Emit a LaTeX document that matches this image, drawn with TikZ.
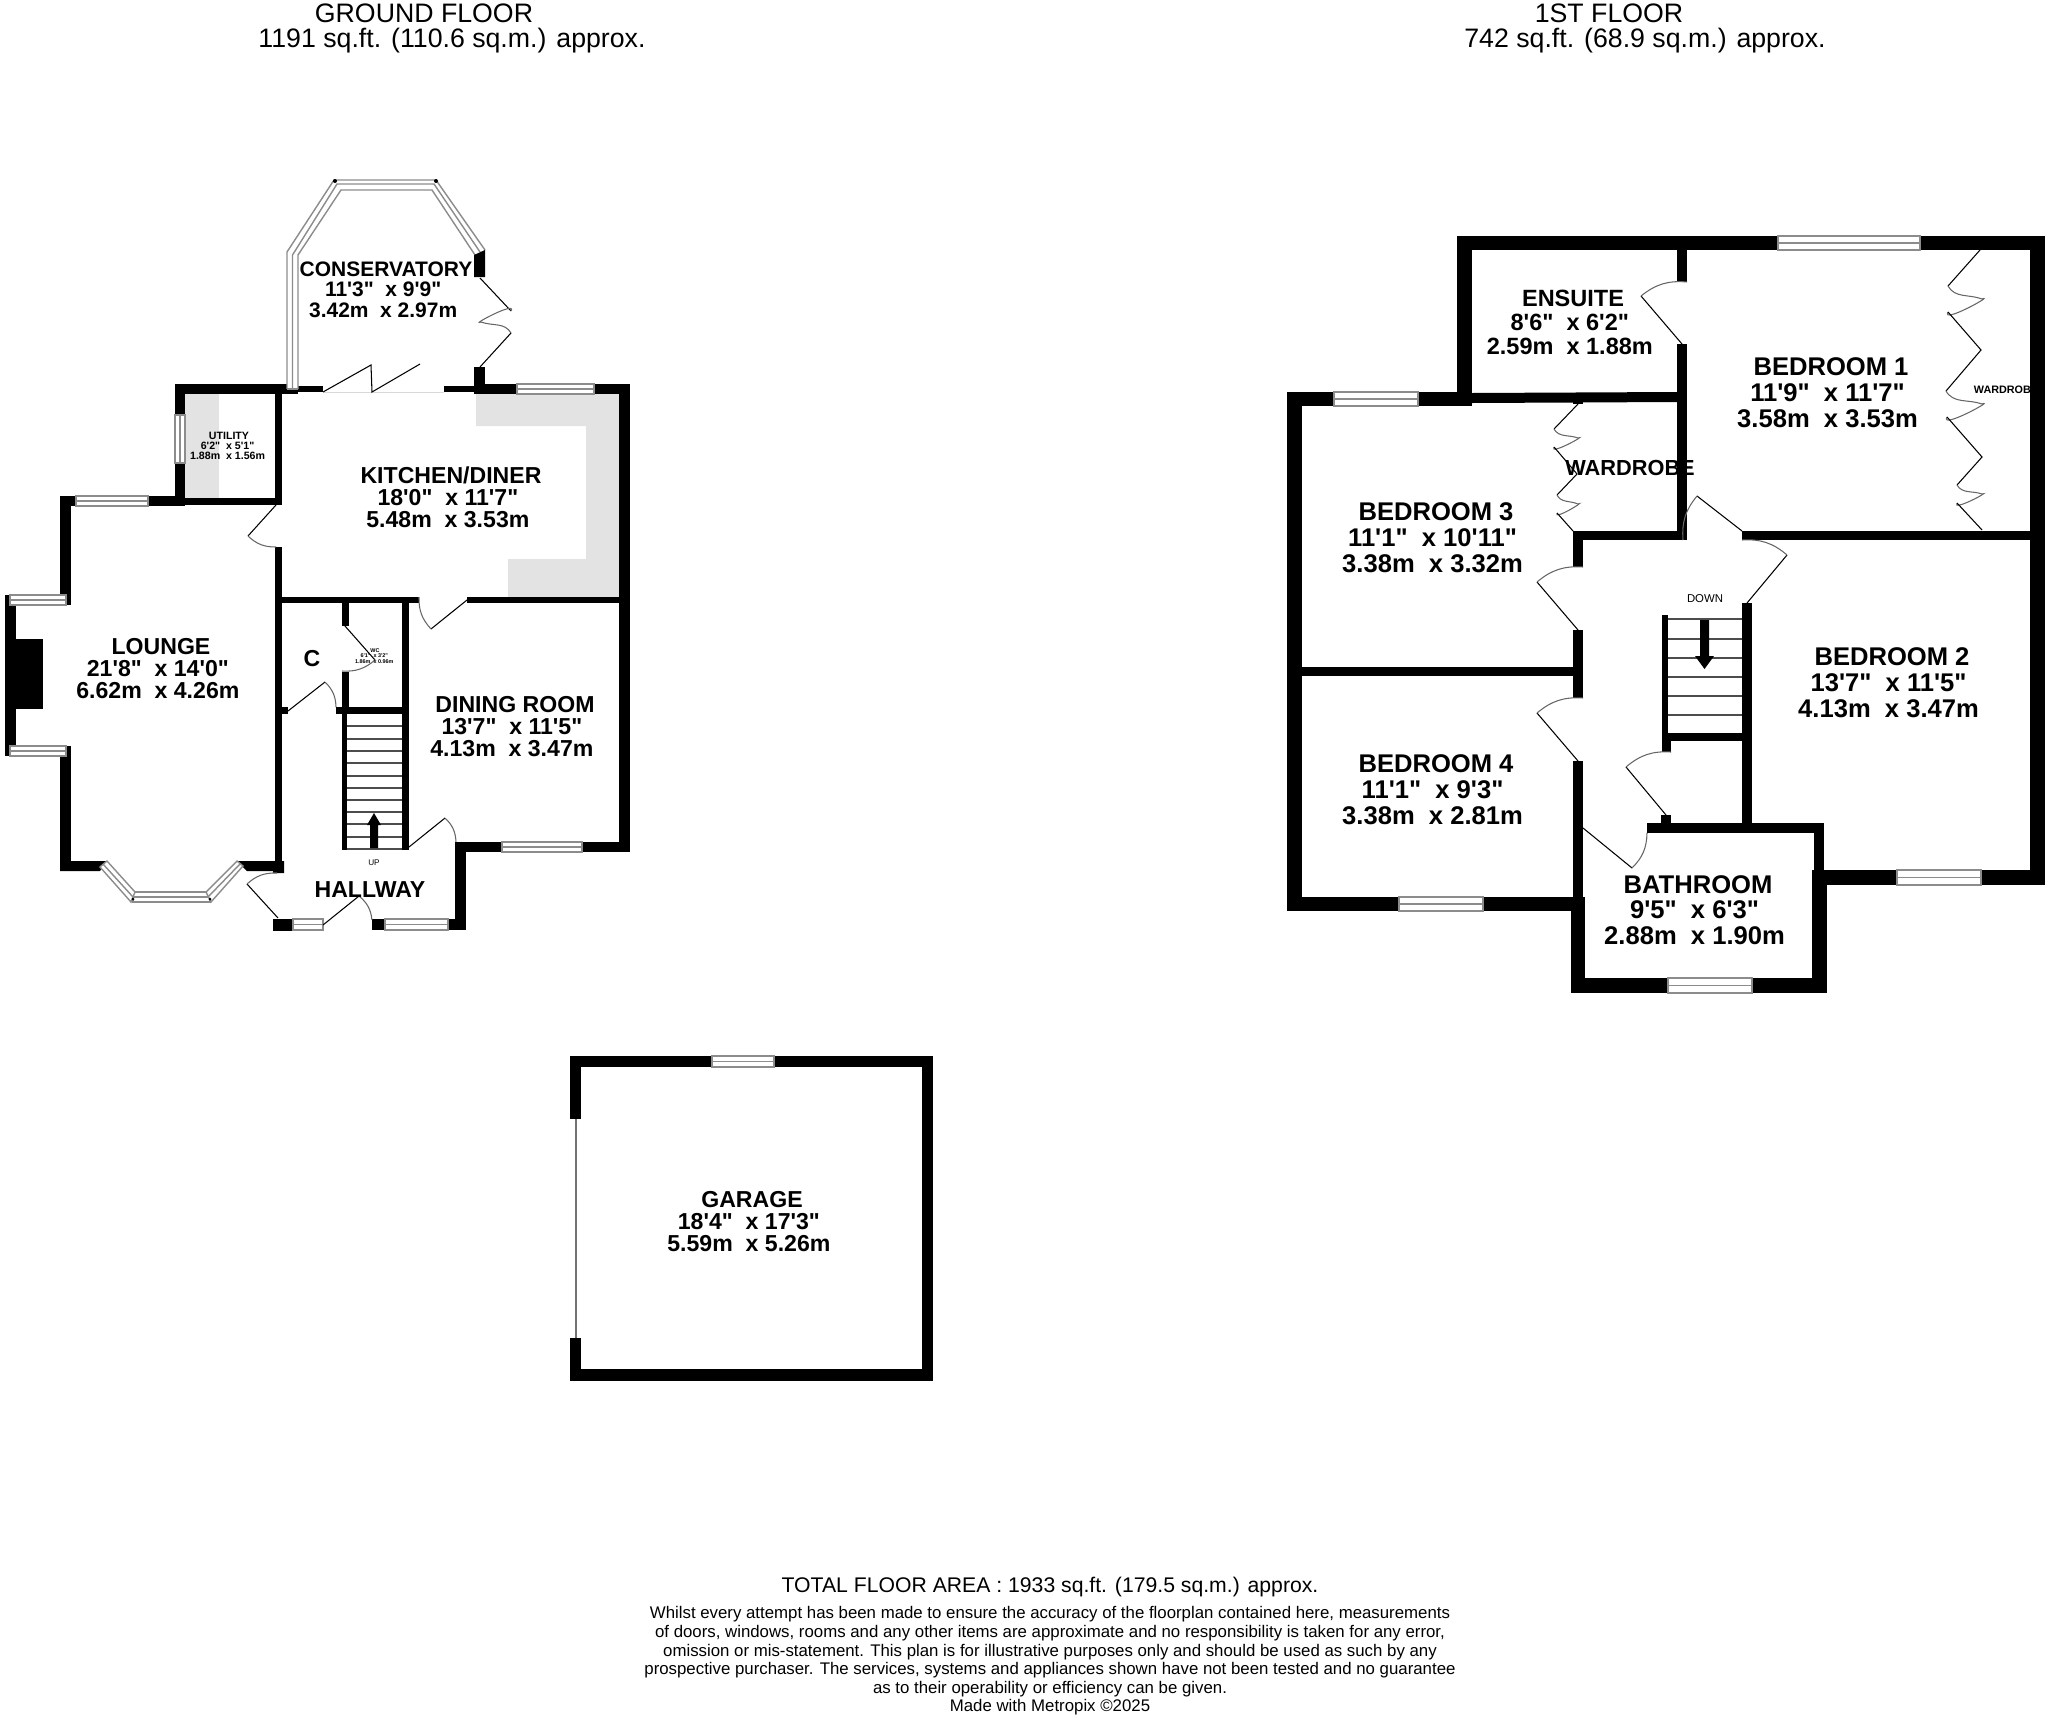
\documentclass[tikz,border=0pt]{standalone}
\usepackage{fontspec}
\setmainfont{Liberation Sans}[Ligatures=TeXOff]
\usepackage{tikz}
\tikzstyle{wall}=[fill=black]
\tikzstyle{unit}=[fill=black!11]
\tikzstyle{win}=[draw=black!45, line width=.4pt, fill=white]
\tikzstyle{leaf}=[line width=.3pt]
\tikzstyle{swing}=[line width=.3pt, draw=black!60, bend right=22]
\tikzstyle{tread}=[line width=.3pt, draw=black!70]
\tikzstyle{room}=[font=\bfseries\fontsize{6.57pt}{6.26pt}\selectfont, align=center, inner sep=0pt, yshift=-.45pt]
\tikzstyle{roomA}=[font=\bfseries\fontsize{7.28pt}{7.31pt}\selectfont, align=center, inner sep=0pt, yshift=-.25pt]
\tikzstyle{roomB}=[font=\bfseries\fontsize{6.69pt}{6.83pt}\selectfont, align=center, inner sep=0pt, yshift=-.25pt]
\tikzstyle{roomC}=[font=\bfseries\fontsize{5.97pt}{5.83pt}\selectfont, align=center, inner sep=0pt, yshift=-.2pt]
\tikzstyle{roomD}=[font=\bfseries\fontsize{3.02pt}{2.85pt}\selectfont, align=center, inner sep=0pt]
\tikzstyle{roomE}=[font=\bfseries\fontsize{1.55pt}{1.5pt}\selectfont, align=center, inner sep=0pt]
\tikzstyle{title}=[font=\fontsize{7.6pt}{7.6pt}\selectfont, inner sep=0pt]
\newcommand{\roomtxt}[3]{#1\\#2\kern.27em\\#3\kern.27em}
\newcommand{\winh}[4]{\draw[win] (#1,#2) rectangle (#3,#4); \draw[win] (#1,{(#2+#4)/2}) -- (#3,{(#2+#4)/2});}
\newcommand{\winv}[4]{\draw[win] (#1,#2) rectangle (#3,#4); \draw[win] ({(#1+#3)/2},#2) -- ({(#1+#3)/2},#4);}

\begin{document}
\begin{tikzpicture}[x=.1mm, y=-.1mm]
\useasboundingbox (0,0) rectangle (2048,1716);
% fitted units
\fill[unit] (185,394) rectangle (219,498);
\fill[unit] (476,394) -- (619,394) -- (619,597) -- (508,597) -- (508,559) -- (586,559) -- (586,426) -- (476,426) -- cycle;
\node[font=\bfseries\fontsize{3.07pt}{3pt}\selectfont, inner sep=0pt] (wardrobeB) at (2006,390) {WARDROBE};
% ground floor walls
\fill[wall] (175,384) rectangle (287,394);
\fill[wall] (287,384) rectangle (298,394);
\fill[wall] (298,386) rectangle (323,392);
\fill[wall] (444,386) rectangle (474,392);
\fill[wall] (474,367) rectangle (485,394);
\fill[wall] (485,384) rectangle (517,394);
\fill[wall] (594,384) rectangle (630,394);
\fill[wall] (175,394) rectangle (185,415);
\fill[wall] (175,463) rectangle (185,505);
\fill[wall] (275,394) rectangle (282,505);
\fill[wall] (148,498) rectangle (282,505);
\fill[wall] (148,496) rectangle (185,506);
\fill[wall] (60,496) rectangle (76,506);
\fill[wall] (60,496) rectangle (71,605);
\fill[wall] (5,595) rectangle (16,756);
\fill[wall] (16,639) rectangle (43,709);
\fill[wall] (60,746) rectangle (71,871);
\fill[wall] (60,861) -- (107,861) -- (100,871) -- (60,871) -- cycle;
\fill[wall] (237,861) -- (284,861) -- (284,873) -- (273,873) -- (273,871) -- (247,871) -- cycle;
\fill[wall] (275,547) rectangle (282,861);
\fill[wall] (282,597) rectangle (419,603);
\fill[wall] (467,597) rectangle (630,603);
\fill[wall] (619,384) rectangle (630,852);
\fill[wall] (456,842) rectangle (502,852);
\fill[wall] (582,842) rectangle (630,852);
\fill[wall] (455,842) rectangle (466,930);
\fill[wall] (448,919) rectangle (466,930);
\fill[wall] (372,919) rectangle (385,930);
\fill[wall] (273,919) rectangle (293,931);
\fill[wall] (342,603) rectangle (349,626);
\fill[wall] (342,672) rectangle (349,710);
\fill[wall] (342,710) rectangle (347,850);
\fill[wall] (336,707) rectangle (409,714);
\fill[wall] (282,707) rectangle (288,714);
\fill[wall] (402,603) rectangle (409,850);
% garage walls
\fill[wall] (570,1056) rectangle (712,1067);
\fill[wall] (774,1056) rectangle (933,1067);
\fill[wall] (570,1056) rectangle (581,1119);
\fill[wall] (570,1338) rectangle (581,1381);
\fill[wall] (922,1056) rectangle (933,1381);
\fill[wall] (570,1369) rectangle (933,1381);
\draw[line width=.4pt, draw=black!55] (576,1119) -- (576,1338);
% first floor walls
\fill[wall] (1457,236) rectangle (1778,250);
\fill[wall] (1920,236) rectangle (2045,250);
\fill[wall] (1457,236) rectangle (1472,406);
\fill[wall] (1287,392) rectangle (1334,406);
\fill[wall] (1418,392) rectangle (1472,406);
\fill[wall] (1287,392) rectangle (1302,911);
\fill[wall] (1472,393) -- (1677,392) -- (1677,402) -- (1472,403) -- cycle;
\fill[wall] (1573,400) rectangle (1583,404);
\fill[wall] (1677,236) rectangle (1687,282);
\fill[wall] (1677,344) rectangle (1687,540);
\fill[wall] (1573,531) rectangle (1687,540);
\fill[wall] (1573,531) rectangle (1583,567);
\fill[wall] (1573,630) rectangle (1583,698);
\fill[wall] (1302,667) rectangle (1573,676);
\fill[wall] (1573,761) rectangle (1583,897);
\fill[wall] (1287,897) rectangle (1399,911);
\fill[wall] (1483,897) rectangle (1585,911);
\fill[wall] (1571,897) rectangle (1585,993);
\fill[wall] (1571,978) rectangle (1668,993);
\fill[wall] (1752,978) rectangle (1827,993);
\fill[wall] (1812,871) rectangle (1827,993);
\fill[wall] (1647,823) rectangle (1824,833);
\fill[wall] (1814,823) rectangle (1824,871);
\fill[wall] (1812,870) rectangle (1897,885);
\fill[wall] (1981,870) rectangle (2045,885);
\fill[wall] (2030,236) rectangle (2045,885);
\fill[wall] (1742,531) rectangle (2045,540);
\fill[wall] (1662,615) rectangle (1668,752);
\fill[wall] (1662,733) rectangle (1671,752);
\fill[wall] (1742,603) rectangle (1752,823);
\fill[wall] (1662,733) rectangle (1742,741);
\fill[wall] (1661,815) rectangle (1671,823);
% windows
\winh{76}{496}{148}{506}
\winh{10}{595}{66}{605}
\winh{10}{746}{66}{756}
\winv{175}{415}{185}{463}
\winh{133}{892}{210}{902}
\winh{517}{384}{594}{394}
\winh{502}{842}{582}{852}
\winh{385}{919}{448}{930}
\winh{293}{919}{323}{930}
\winh{712}{1056}{774}{1067}
\winh{1334}{392}{1418}{406}
\winh{1778}{236}{1920}{250}
\winh{1399}{897}{1483}{911}
\winh{1668}{978}{1752}{993}
\winh{1897}{870}{1981}{885}
\draw[win] (107,861) -- (100,867) -- (131,902) -- (135,892) -- cycle;
\draw[win] (103,864) -- (133,897);
\draw[win] (237,861) -- (243,866) -- (211,902) -- (206,892) -- cycle;
\draw[win] (240,864) -- (208,897);
% conservatory frame
\fill[white] (287,389) -- (287,252) -- (334,180) -- (436,180) -- (485,250) -- (475,255) -- (432,190) -- (341,190) -- (298,255) -- (298,389) -- cycle;
\draw[win, fill=none] (287,389) -- (287,252) -- (334,180) -- (436,180) -- (485,250);
\draw[win, fill=none] (292.5,389) -- (292.5,255) -- (337,184) -- (434,184) -- (480,252);
\draw[win, fill=none] (298,389) -- (298,255) -- (341,190) -- (432,190) -- (475,255);
\draw[win, fill=none] (287,389) -- (298,389);
\fill[wall] (474,255) -- (485,250) -- (485,277) -- (474,277) -- cycle;
\fill[wall] (335,181) circle (2);
\fill[wall] (436,181) circle (2);
\fill[wall] (133,899) circle (1.5);
\fill[wall] (210,899) circle (1.5);
\draw[line width=.2pt, draw=black!15] (323,392) -- (444,392);
% doors
\draw[leaf] (276,505) -- (248,536);
\draw[swing] (248,536) to (276,547);
\draw[leaf] (278,918) -- (247,884);
\draw[swing] (277,873) to (247,884);
\draw[leaf] (323,925) -- (359,896);
\draw[swing] (372,920) to (359,896);
\draw[leaf] (409,847) -- (445,818);
\draw[swing] (456,842) to (445,818);
\draw[leaf] (467,600) -- (431,629);
\draw[swing] (419,597) to (431,629);
\draw[leaf] (345,626) -- (375,660);
\draw[swing] (342,671) to (375,660);
\draw[leaf] (288,711) -- (325,682);
\draw[swing] (336,707) to (325,682);
\draw[leaf] (1682,344) -- (1641,296);
\draw[swing] (1687,282) to (1641,296);
\draw[leaf] (1578,630) -- (1537,582);
\draw[swing] (1583,567) to (1537,582);
\draw[leaf] (1578,761) -- (1537,713);
\draw[swing] (1583,698) to (1537,713);
\draw[leaf] (1666,815) -- (1626,767);
\draw[swing] (1671,752) to (1626,767);
\draw[leaf] (1583,828) -- (1632,868);
\draw[swing] (1632,868) to (1647,833);
\draw[leaf] (1747,603) -- (1787,555);
\draw[swing] (1787,555) to (1742,540);
\draw[leaf] (1742,531) -- (1697,496);
\draw[swing] (1697,496) to (1683,540);
% folding doors
\draw[leaf] (323,392) -- (371,365) -- (372,392) -- (420,364);
\draw[leaf] (480,278) -- (511,311);
\draw[swing, bend right=0] (511,311) to[out=220, in=0] (481,322);
\draw[swing, bend right=0] (481,322) to[out=0, in=140] (511,333);
\draw[leaf] (511,333) -- (480,367);
\draw[leaf] (1578,404) -- (1554,429);
\draw[swing, bend right=0] (1554,429) to[out=-40, in=180] (1578,438);
\draw[swing, bend right=0] (1578,438) to[out=180, in=40] (1554,447);
\draw[leaf] (1554,447) -- (1577,474) -- (1557,495);
\draw[swing, bend right=0] (1557,495) to[out=-40, in=180] (1578,504);
\draw[swing, bend right=0] (1578,504) to[out=180, in=40] (1557,513);
\draw[leaf] (1557,513) -- (1573,531);
\draw[leaf] (1980,250) -- (1948,286);
\draw[swing, bend right=0] (1948,286) to[out=-40, in=180] (1982,299);
\draw[swing, bend right=0] (1982,299) to[out=180, in=40] (1948,312);
\draw[leaf] (1948,312) -- (1981,350) -- (1946,391);
\draw[swing, bend right=0] (1946,391) to[out=-40, in=180] (1982,404);
\draw[swing, bend right=0] (1982,404) to[out=180, in=40] (1947,417);
\draw[leaf] (1947,417) -- (1982,457) -- (1957,485);
\draw[swing, bend right=0] (1957,485) to[out=-40, in=180] (1982,494);
\draw[swing, bend right=0] (1982,494) to[out=180, in=40] (1957,503);
\draw[leaf] (1957,503) -- (1982,530);
% stairs
\draw[tread] (347,726) -- (402,726);
\draw[tread] (347,739) -- (402,739);
\draw[tread] (347,751) -- (402,751);
\draw[tread] (347,763) -- (402,763);
\draw[tread] (347,776) -- (402,776);
\draw[tread] (347,788) -- (402,788);
\draw[tread] (347,800) -- (402,800);
\draw[tread] (347,812) -- (402,812);
\draw[tread] (347,824) -- (402,824);
\draw[tread] (347,837) -- (402,837);
\draw[tread] (347,849) -- (402,849);
\fill[wall] (370,848) -- (370,825) -- (367,825) -- (374,813) -- (381,825) -- (378,825) -- (378,848) -- cycle;
\draw[tread] (1668,619) -- (1742,619);
\draw[tread] (1668,639) -- (1742,639);
\draw[tread] (1668,658) -- (1742,658);
\draw[tread] (1668,677) -- (1742,677);
\draw[tread] (1668,696) -- (1742,696);
\draw[tread] (1668,715) -- (1742,715);
\fill[wall] (1700,620) -- (1709,620) -- (1709,656) -- (1714,656) -- (1704.5,669) -- (1695,656) -- (1700,656) -- cycle;
% labels
\node[title] (groundA) at (424,13) {GROUND FLOOR};
\node[title] (groundB) at (452,41) {1191 sq.ft. (110.6 sq.m.) approx.};
\node[title] (firstA) at (1609,13) {1ST FLOOR};
\node[title] (firstB) at (1645,41) {742 sq.ft. (68.9 sq.m.) approx.};
\node[roomC] (conservatory) at (386,289) {\roomtxt{CONSERVATORY}{11'3"~~x 9'9"}{3.42m~~x 2.97m}};
\node[roomD] (utility) at (229,446) {\roomtxt{UTILITY}{6'2"~~x 5'1"}{1.88m~~x 1.56m}};
\node[room] (kitchen) at (451,496) {\roomtxt{KITCHEN/DINER}{18'0"~~x 11'7"}{5.48m~~x 3.53m}};
\node[room] (lounge) at (161,667) {\roomtxt{LOUNGE}{21'8"~~x 14'0"}{6.62m~~x 4.26m}};
\node[room] (cupboard) at (312,657) {C};
\node[roomE] (wc) at (375,656) {\roomtxt{WC}{6'1"~~x 3'2"}{1.86m~~x 0.96m}};
\node[room] (dining) at (515,725) {\roomtxt{DINING ROOM}{13'7"~~x 11'5"}{4.13m~~x 3.47m}};
\node[room] (hallway) at (370,888) {HALLWAY};
\node[font=\fontsize{2.33pt}{2.33pt}\selectfont, inner sep=0pt] (up) at (374,863) {UP};
\node[room] (garage) at (752,1220) {\roomtxt{GARAGE}{18'4"~~x 17'3"}{5.59m~~x 5.26m}};
\node[roomB] (ensuite) at (1573,322) {\roomtxt{ENSUITE}{8'6"~~x 6'2"}{2.59m~~x 1.88m}};
\node[roomA] (bedA) at (1831,392) {\roomtxt{BEDROOM 1}{11'9"~~x 11'7"}{3.58m~~x 3.53m}};
\node[roomA] (bedB) at (1892,682) {\roomtxt{BEDROOM 2}{13'7"~~x 11'5"}{4.13m~~x 3.47m}};
\node[roomA] (bedC) at (1436,537) {\roomtxt{BEDROOM 3}{11'1"~~x 10'11"}{3.38m~~x 3.32m}};
\node[roomA] (bedD) at (1436,789) {\roomtxt{BEDROOM 4}{11'1"~~x 9'3"}{3.38m~~x 2.81m}};
\node[roomA] (bath) at (1698,909) {\roomtxt{BATHROOM}{9'5"~~x 6'3"}{2.88m~~x 1.90m}};
\node[font=\bfseries\fontsize{6.2pt}{6.2pt}\selectfont, inner sep=0pt] (wardrobeA) at (1630,468) {WARDROBE};
\node[font=\fontsize{3.24pt}{3.24pt}\selectfont, inner sep=0pt] (down) at (1705,599) {DOWN};
\node[font=\fontsize{6.03pt}{6.03pt}\selectfont, inner sep=0pt] (total) at (1050,1587) {TOTAL FLOOR AREA : 1933 sq.ft. (179.5 sq.m.) approx.};
\node[font=\fontsize{4.785pt}{5.29pt}\selectfont, align=center, inner sep=0pt] (disclaimer) at (1050,1661) {Whilst every attempt has been made to ensure the accuracy of the floorplan contained here, measurements\\of doors, windows, rooms and any other items are approximate and no responsibility is taken for any error,\\omission or mis-statement. This plan is for illustrative purposes only and should be used as such by any\\prospective purchaser. The services, systems and appliances shown have not been tested and no guarantee\\as to their operability or efficiency can be given.\\Made with Metropix \textcopyright 2025};
\end{tikzpicture}
\end{document}
